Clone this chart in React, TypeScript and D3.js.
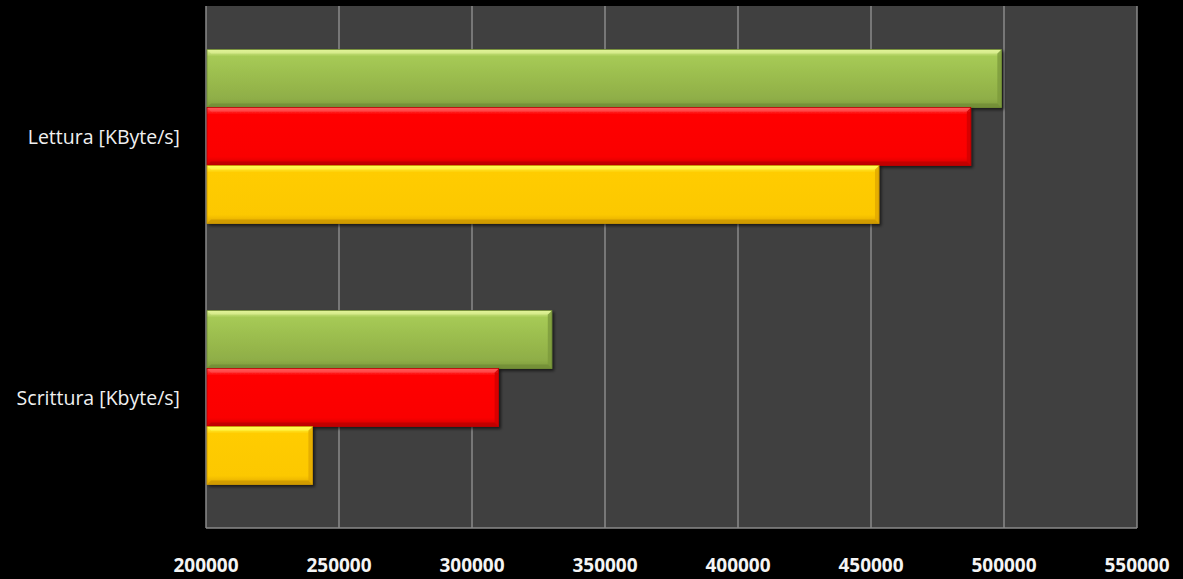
import React from "react";
import * as d3 from "d3";

const categories = ["Lettura [KByte/s]", "Scrittura [Kbyte/s]"];
const seriesNames = ["Serie A", "Serie B", "Serie C"];
const serieA = [499000, 330000];
const serieB = [487500, 310000];
const serieC = [453000, 240000];
const xTicks = [200000, 250000, 300000, 350000, 400000, 450000, 500000, 550000];

const W = 1183;
const H = 579;
const margin = { left: 206, right: 46, top: 6, bottom: 51 };

const palette = [
  { id: "g", top: "#e2f49a", mid: "#a6ca55", mid2: "#8fae47", bot: "#7c9a3c", edge: "#6f8a34" },
  { id: "r", top: "#ff5a5a", mid: "#ff0000", mid2: "#fa0000", bot: "#d00000", edge: "#b80000" },
  { id: "y", top: "#ffff55", mid: "#ffcc00", mid2: "#fcc800", bot: "#e0a800", edge: "#c89400" },
];

export default function App() {
  const x = d3.scaleLinear().domain([200000, 550000]).range([margin.left, W - margin.right]);
  const y0 = d3.scaleBand().domain(categories).range([margin.top, H - margin.bottom]).paddingInner(0).paddingOuter(0);
  const seriesVals = [serieA, serieB, serieC];
  // Excel gap width 150%: group = 3 bars, gap = 1.5 bars
  const band = y0.bandwidth();
  const barH = band / 4.5;
  const groupOffset = barH * 0.75;

  return (
    <svg width={W} height={H} style={{ position: "absolute", left: 0, top: 0, background: "#000" }}>
      <defs>
        {palette.map((p) => (
          <linearGradient key={p.id} id={"grad-" + p.id} x1="0" y1="0" x2="0" y2="1">
            <stop offset="0" stopColor={p.top} />
            <stop offset="0.12" stopColor={p.mid} />
            <stop offset="0.85" stopColor={p.mid2} />
            <stop offset="1" stopColor={p.bot} />
          </linearGradient>
        ))}
        <filter id="shadow" x="-5%" y="-10%" width="110%" height="130%">
          <feDropShadow dx="2" dy="2" stdDeviation="1.5" floodColor="#000" floodOpacity="0.6" />
        </filter>
      </defs>
      <rect x={0} y={0} width={W} height={H} fill="#000" />
      <rect
        x={margin.left}
        y={margin.top}
        width={x(550000) - margin.left}
        height={H - margin.bottom - margin.top}
        fill="#404040"
      />
      {xTicks.map((t) => (
        <line
          key={t}
          x1={x(t)}
          x2={x(t)}
          y1={margin.top}
          y2={H - margin.bottom}
          stroke="#8a8a8a"
          strokeWidth={1.5}
        />
      ))}
      <line
        x1={margin.left}
        x2={x(550000)}
        y1={H - margin.bottom}
        y2={H - margin.bottom}
        stroke="#8a8a8a"
        strokeWidth={1.5}
      />
      {categories.map((c, ci) =>
        seriesVals.map((vals, si) => {
          const p = palette[si];
          const yTop = (y0(c) as number) + groupOffset + si * barH;
          const x0 = x(200000) + 1;
          const x1 = x(vals[ci]);
          const w = x1 - x0;
          const b = 4;
          return (
            <g key={c + si} filter="url(#shadow)">
              <rect x={x0} y={yTop} width={w} height={barH} fill={`url(#grad-${p.id})`} />
              <polygon
                points={`${x1 - b},${yTop + b} ${x1},${yTop} ${x1},${yTop + barH} ${x1 - b},${yTop + barH - b}`}
                fill={p.bot}
                opacity={0.8}
              />
              <polygon
                points={`${x0},${yTop + barH} ${x0 + b},${yTop + barH - b} ${x1 - b},${yTop + barH - b} ${x1},${yTop + barH}`}
                fill={p.edge}
                opacity={0.7}
              />
              <polygon
                points={`${x0},${yTop} ${x1},${yTop} ${x1 - b},${yTop + b} ${x0 + b},${yTop + b}`}
                fill={p.top}
                opacity={0.6}
              />
              <rect x={x0} y={yTop} width={w} height={barH} fill="none" stroke={p.edge} strokeWidth={0.8} />
              <title>{seriesNames[si] + ": " + vals[ci]}</title>
            </g>
          );
        })
      )}
      {categories.map((c) => (
        <text
          key={c}
          x={margin.left - 26}
          y={(y0(c) as number) + band / 2 + 7.5}
          textAnchor="end"
          fill="#f0f0f0"
          fontFamily="'Open Sans', 'Noto Sans', sans-serif"
          fontSize={19.5}
        >
          {c}
        </text>
      ))}
      {xTicks.map((t) => (
        <text
          key={"l" + t}
          x={x(t)}
          y={572}
          textAnchor="middle"
          fill="#f4f4f4"
          fontFamily="'Open Sans', 'Noto Sans', sans-serif"
          fontWeight="bold"
          fontSize={19}
        >
          {t}
        </text>
      ))}
    </svg>
  );
}
